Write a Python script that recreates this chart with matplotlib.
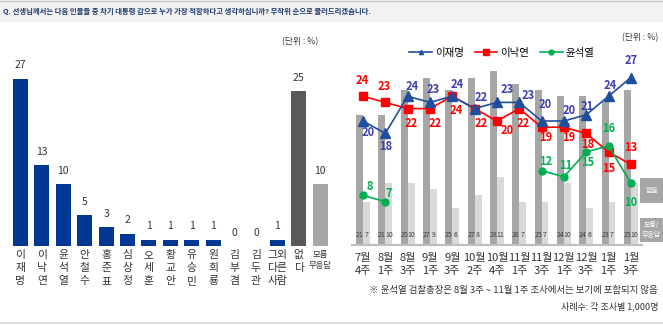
import matplotlib
matplotlib.use("Agg")
import matplotlib.pyplot as plt
from matplotlib.patches import Rectangle
from matplotlib.lines import Line2D
import numpy as np

plt.rcParams['font.family'] = ['Noto Sans CJK KR', 'DejaVu Sans']

# ---------------- data ----------------
left_names = ["이재명", "이낙연", "윤석열", "안철수", "홍준표", "심상정", "오세훈", "황교안",
              "유승민", "원희룡", "김부겸", "김두관", "그외\n다른\n사람", "없다", "모름\n무응답"]
left_values = [27, 13, 10, 5, 3, 2, 1, 1, 1, 1, 0, 0, 1, 25, 10]

weeks = ["7월\n4주", "8월\n1주", "8월\n3주", "9월\n1주", "9월\n3주", "10월\n2주", "10월\n4주",
         "11월\n1주", "11월\n3주", "12월\n1주", "12월\n3주", "1월\n1주", "1월\n3주"]
none_pct = [21, 21, 25, 27, 25, 27, 28, 26, 25, 24, 24, 23, 25]
dk_pct = [7, 10, 10, 9, 6, 8, 11, 7, 7, 10, 6, 7, 10]
lee_jm = [20, 18, 24, 23, 24, 22, 23, 23, 20, 20, 21, 24, 27]
lee_ny = [24, 23, 22, 22, 24, 22, 20, 22, 19, 19, 18, 15, 13]
yoon = [8, 7, None, None, None, None, None, None, 12, 11, 15, 16, 10]

# label offsets (pixels, dx, dy up)
off_jm = [(5, -11), (0, -13), (5, 10), (3, 13), (5, 12), (7, 11), (10, 13), (9, 7),
          (4, 17), (5, 10), (1, 8), (2, 11), (0, 17)]
off_ny = [(-1, 16), (-1, 16), (4, -15), (5, -15), (4, -14), (7, -15), (10, -10), (4, -15),
          (4, -10), (5, -10), (1, -11), (0, -17), (0, 17)]
off_yo = [(7, 9), (3, 8), None, None, None, None, None, None, (4, 9), (2, 11), (1, -11), (0, 17), (0, -19)]

W, H = 663, 325
fig = plt.figure(figsize=(W / 100, H / 100), dpi=100)

def fx(px):
    return px / W

def fy(py):
    return 1 - py / H

# title bar
fig.patches.append(Rectangle((0, fy(22)), 1, 22 / H, transform=fig.transFigure,
                             facecolor="#f2f2f2", edgecolor="none", zorder=0))
fig.add_artist(Line2D([0, 1], [fy(0.5), fy(0.5)], color="#c8c8c8", lw=1, transform=fig.transFigure))
fig.add_artist(Line2D([0, 1], [fy(323), fy(323)], color="#dcdcdc", lw=1.4, transform=fig.transFigure))
fig.text(fx(3), fy(11), "Q. 선생님께서는 다음 인물들 중 차기 대통령 감으로 누가 가장 적합하다고 생각하십니까? 무작위 순으로 불러드리겠습니다.",
         fontsize=5.3, fontweight="bold", color="#1f3a6e", ha="left", va="center")

scale = 6.2  # px per unit
# ---------------- left chart ----------------
axL = fig.add_axes([fx(9.8), fy(246), fx(321), 30 * scale / H])
xl = np.arange(len(left_values))
colorsL = ["#003893"] * 13 + ["#595959", "#a6a6a6"]
axL.bar(xl, left_values, width=0.7, color=colorsL)
for x, v in zip(xl, left_values):
    axL.annotate(str(v), (x, v), xytext=(0, 6), textcoords="offset points",
                 ha="center", va="bottom", fontsize=7.5, color="#333333")
axL.set_xlim(-0.5, len(left_values) - 0.5)
axL.set_ylim(0, 30)
axL.set_yticks([])
axL.set_xticks(xl)
labs = []
for n in left_names:
    if "\n" in n:
        labs.append(n)
    else:
        labs.append("\n".join(list(n)))
axL.set_xticklabels(labs, fontsize=7.8, color="#333333", linespacing=1.35)
for i, t in enumerate(axL.get_xticklabels()):
    if i == len(left_names) - 1:
        t.set_fontsize(6)
        t.set_linespacing(1.2)
axL.tick_params(axis="x", length=0, pad=3)
for s in axL.spines.values():
    s.set_visible(False)
axL.patch.set_alpha(0)
fig.text(fx(300), fy(42), "(단위 : %)", fontsize=6.3, color="#333333", ha="center", va="center")

# ---------------- right chart ----------------
axR = fig.add_axes([fx(351.85), fy(245), fx(290.15), 30 * scale / H])
xr = np.arange(len(weeks))
bw = 0.31
axR.bar(xr - bw / 2, none_pct, width=bw, color="#a6a6a6", zorder=1)
axR.bar(xr + bw / 2, dk_pct, width=bw, color="#d9d9d9", zorder=1)
for x, a, b in zip(xr, none_pct, dk_pct):
    axR.text(x - bw / 2, 1.6, str(a), fontsize=5, color="#404040", ha="center", va="center", zorder=2)
    axR.text(x + bw / 2, 1.6, str(b), fontsize=5, color="#404040", ha="center", va="center", zorder=2)

c_jm, c_ny, c_yo = "#1f4e9f", "#ff0000", "#00b050"
axR.plot(xr, lee_jm, color=c_jm, lw=1.2, marker="^", ms=6.5, zorder=4, label="이재명")
axR.plot(xr, lee_ny, color=c_ny, lw=1.2, marker="s", ms=6, zorder=3, label="이낙연")
yoon_arr = np.array([np.nan if v is None else v for v in yoon], dtype=float)
axR.plot(xr, yoon_arr, color=c_yo, lw=1.2, marker="o", ms=5, zorder=5, label="윤석열")

def lab(vals, offs, col):
    for x, v, o in zip(xr, vals, offs):
        if v is None or o is None:
            continue
        axR.annotate(str(v), (x, v), xytext=(o[0] * 0.72, o[1] * 0.72), textcoords="offset points",
                     ha="center", va="center", fontsize=8, fontweight="bold", color=col,
                     zorder=6, annotation_clip=False)

lab(lee_jm, off_jm, "#3c3cb4")
lab(lee_ny, off_ny, "#ff0000")
lab(yoon, off_yo, c_yo)

axR.set_xlim(-0.5, len(weeks) - 0.5)
axR.set_ylim(0, 30)
axR.set_yticks([])
axR.set_xticks(xr)
axR.set_xticklabels(weeks, fontsize=8, color="#333333", linespacing=1.35)
axR.tick_params(axis="x", length=0, pad=6)
for k, s in axR.spines.items():
    s.set_visible(k == "bottom")
axR.spines["bottom"].set_color("#bfbfbf")
axR.spines["bottom"].set_linewidth(1.6)
axR.patch.set_alpha(0)

leg_handles = [Line2D([], [], color=c_jm, marker="^", ms=3, lw=1.2),
               Line2D([], [], color=c_ny, marker="s", ms=4, lw=1.2),
               Line2D([], [], color=c_yo, marker="o", ms=3.5, lw=1.2)]
fig.legend(leg_handles, ["이재명", "이낙연", "윤석열"], loc="center", bbox_to_anchor=(fx(502), fy(53)),
           ncol=3, frameon=False, fontsize=7.5, handlelength=2.2, handletextpad=0.3, columnspacing=1.0)

fig.text(fx(640), fy(38), "(단위 : %)", fontsize=6.3, color="#333333", ha="center", va="center")

# side boxes
fig.patches.append(Rectangle((fx(640), fy(203)), fx(23), 25 / H, transform=fig.transFigure,
                             facecolor="#a6a6a6", edgecolor="none"))
fig.text(fx(651.5), fy(190.5), "없음", fontsize=5, color="white", ha="center", va="center")
fig.patches.append(Rectangle((fx(640), fy(242)), fx(23), 24 / H, transform=fig.transFigure,
                             facecolor="#a6a6a6", edgecolor="none"))
fig.text(fx(651.5), fy(230), "모름/\n무응답", fontsize=5, color="white", ha="center", va="center",
         linespacing=1.2)

fig.text(fx(658), fy(290), "※ 윤석열 검찰총장은 8월 3주 ~ 11월 1주 조사에서는 보기에 포함되지 않음",
         fontsize=6.8, color="#333333", ha="right", va="center")
fig.text(fx(658), fy(306), "사례수: 각 조사별 1,000명", fontsize=6.5, color="#333333", ha="right", va="center")

fig.savefig("out.png", dpi=100)
